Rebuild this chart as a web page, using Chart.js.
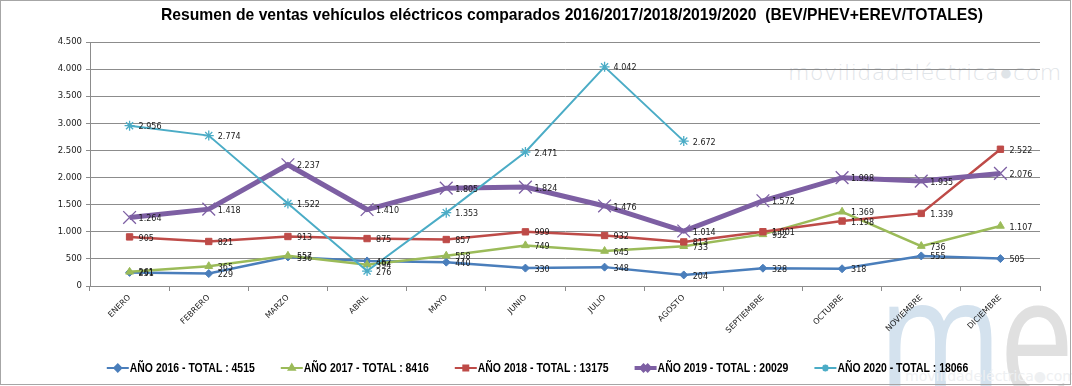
<!DOCTYPE html>
<html lang="es">
  <head>
    <meta charset="UTF-8" />
    <title>Resumen de ventas vehículos eléctricos</title>
    <script src="https://cdn.jsdelivr.net/npm/chart.js"></script>
    <style>
      body {
        margin: 0;
        padding: 0;
        background: #fff;
      }
      .wrap {
        position: relative;
        width: 1072px;
        height: 386px;
        overflow: hidden;
      }
      .frame {
        position: absolute;
        left: 0;
        top: 0;
        width: 1071px;
        height: 385px;
        box-sizing: border-box;
        border: 1px solid #a6a6a6;
        pointer-events: none;
      }
      .wm-text {
        position: absolute;
        left: 788px;
        top: 60px;
        font-family: "DejaVu Sans", sans-serif;
        font-weight: 200;
        font-size: 22px;
        color: #dfe4e8;
        letter-spacing: 0.5px;
      }
      .wm-small {
        position: absolute;
        left: 905px;
        top: 368px;
        font-family: "DejaVu Sans", sans-serif;
        font-size: 14px;
        color: #eef0f2;
      }
      .wm-logo {
        position: absolute;
        left: 878px;
        top: 246px;
        font-family: "Open Sans", "DejaVu Sans", sans-serif;
        font-size: 172px;
        line-height: 1;
        letter-spacing: -4px;
        transform: scaleX(0.78);
        transform-origin: 0 0;
      }
      .wm-logo .m { color: #d4e2ee; }
      .wm-logo .e { color: #e0e0e0; }
      canvas {
        position: absolute;
        left: 0;
        top: 0;
      }
    </style>
  </head>
  <body>
    <div class="wrap">
      <div class="wm-text">movilidadeléctrica●com</div>
      <div class="wm-logo"><span class="m">m</span><span class="e">e</span></div>
      <div class="wm-small">movilidadeléctrica●com</div>
      <canvas id="chart" width="1072" height="386"></canvas>
      <div class="frame"></div>
    </div>

    <script>
      const months = ["ENERO", "FEBRERO", "MARZO", "ABRIL", "MAYO", "JUNIO",
        "JULIO", "AGOSTO", "SEPTIEMBRE", "OCTUBRE", "NOVIEMBRE", "DICIEMBRE"];

      const v2016 = [251, 229, 536, 462, 440, 330, 348, 204, 328, 318, 555, 505];
      const v2017 = [261, 365, 557, 394, 558, 749, 645, 733, 952, 1369, 736, 1107];
      const v2018 = [905, 821, 913, 875, 857, 999, 932, 813, 1001, 1198, 1339, 2522];
      const v2019 = [1264, 1418, 2237, 1410, 1805, 1824, 1476, 1014, 1572, 1998, 1935, 2076];
      const v2020 = [2956, 2774, 1522, 276, 1353, 2471, 4042, 2672, null, null, null, null];

      const seriesNames = [
        "AÑO 2016 - TOTAL : 4515",
        "AÑO 2017 - TOTAL : 8416",
        "AÑO 2018 - TOTAL : 13175",
        "AÑO 2019 - TOTAL : 20029",
        "AÑO 2020 - TOTAL : 18066",
      ];

      const titleText = "Resumen de ventas vehículos eléctricos comparados 2016/2017/2018/2019/2020  (BEV/PHEV+EREV/TOTALES)";

      function fmt(v) {
        return String(v).replace(/\B(?=(\d{3})+(?!\d))/g, ".");
      }

      const colors = ["#4A7EBB", "#9BBB59", "#BE4B48", "#7D5FA3", "#4BACC6"];
      const styles = ["rectRot", "triangle", "rect", "crossRot", "star"];
      const values = [v2016, v2017, v2018, v2019, v2020];
      const widths = [2.5, 2.5, 2.5, 5, 2];
      const radii = [4, 4.5, 4.5, 9, 5];

      // value next to every point
      const valueLabels = {
        id: "valueLabels",
        afterDatasetsDraw(chart) {
          const ctx = chart.ctx;
          ctx.save();
          ctx.font = "8px 'DejaVu Sans', sans-serif";
          ctx.fillStyle = "#1a1a1a";
          ctx.textAlign = "left";
          ctx.textBaseline = "middle";
          chart.data.datasets.forEach((ds, i) => {
            const meta = chart.getDatasetMeta(i);
            meta.data.forEach((pt, j) => {
              if (ds.data[j] == null) return;
              ctx.fillText(fmt(ds.data[j]), pt.x + 9, pt.y + 1.5);
            });
          });
          ctx.restore();
        },
      };

      // title + legend drawn by hand (excel-like narrow bold text)
      const titleLegend = {
        id: "titleLegend",
        afterDraw(chart) {
          const ctx = chart.ctx;
          ctx.save();
          ctx.fillStyle = "#000";
          ctx.textBaseline = "middle";
          ctx.textAlign = "left";

          ctx.font = "bold 17px 'Liberation Sans', sans-serif";
          let sx = 822 / ctx.measureText(titleText).width;
          ctx.save();
          ctx.translate(161, 15);
          ctx.scale(sx, 1);
          ctx.fillText(titleText, 0, 0);
          ctx.restore();

          ctx.font = "bold 13px 'Liberation Sans', sans-serif";
          sx = 125 / ctx.measureText(seriesNames[0]).width;
          const lineLen = 22, gap = 27, y = 368;
          const textW = seriesNames.map((s) => ctx.measureText(s).width * sx);
          const total = textW.reduce((a, b) => a + b, 0) + lineLen * 5 + gap * 4;
          let x = 537 - total / 2;
          seriesNames.forEach((s, i) => {
            ctx.strokeStyle = colors[i];
            ctx.lineWidth = i === 3 ? 4 : 2;
            ctx.beginPath();
            ctx.moveTo(x, y);
            ctx.lineTo(x + lineLen, y);
            ctx.stroke();
            ctx.fillStyle = colors[i];
            Chart.helpers.drawPoint(ctx, { pointStyle: styles[i], radius: i === 3 ? 5 : 3.5, borderWidth: 1.2 }, x + lineLen / 2, y);
            ctx.fillStyle = "#000";
            ctx.save();
            ctx.translate(x + lineLen + 1, y);
            ctx.scale(sx, 1);
            ctx.fillText(s, 0, 0);
            ctx.restore();
            x += lineLen + textW[i] + gap;
          });
          ctx.restore();
        },
      };

      const datasets = values.map((vals, i) => ({
        label: seriesNames[i],
        data: vals,
        borderColor: colors[i],
        backgroundColor: colors[i],
        pointBackgroundColor: colors[i],
        pointBorderColor: colors[i],
        borderWidth: widths[i],
        pointStyle: styles[i],
        pointRadius: radii[i],
        pointBorderWidth: i >= 3 ? 1.3 : 1,
        tension: 0,
        spanGaps: false,
        order: 4 - i,
      }));

      new Chart(document.getElementById("chart"), {
        type: "line",
        data: { labels: months, datasets: datasets },
        plugins: [valueLabels, titleLegend],
        options: {
          responsive: false,
          animation: false,
          layout: { padding: { left: 50, right: 32, top: 42, bottom: 0 } },
          plugins: {
            tooltip: { enabled: false },
            title: { display: false },
            legend: { display: false },
          },
          scales: {
            x: {
              offset: true,
              afterFit: (s) => { s.height = 100; },
              grid: {
                offset: true,
                drawOnChartArea: false,
                tickLength: 5,
                color: "#8c8c8c",
              },
              border: { color: "#8c8c8c" },
              ticks: {
                minRotation: 45,
                maxRotation: 45,
                autoSkip: false,
                padding: 2,
                color: "#1a1a1a",
                font: { family: "'DejaVu Sans', sans-serif", size: 8 },
              },
            },
            y: {
              min: 0,
              max: 4500,
              afterFit: (s) => { s.width = 40; },
              ticks: {
                stepSize: 500,
                padding: 4,
                color: "#1a1a1a",
                font: { family: "'DejaVu Sans', sans-serif", size: 8.5 },
                callback: (v) => fmt(v),
              },
              grid: { color: "#8c8c8c", tickLength: 4 },
              border: { color: "#8c8c8c" },
            },
          },
        },
      });
    </script>
  </body>
</html>
